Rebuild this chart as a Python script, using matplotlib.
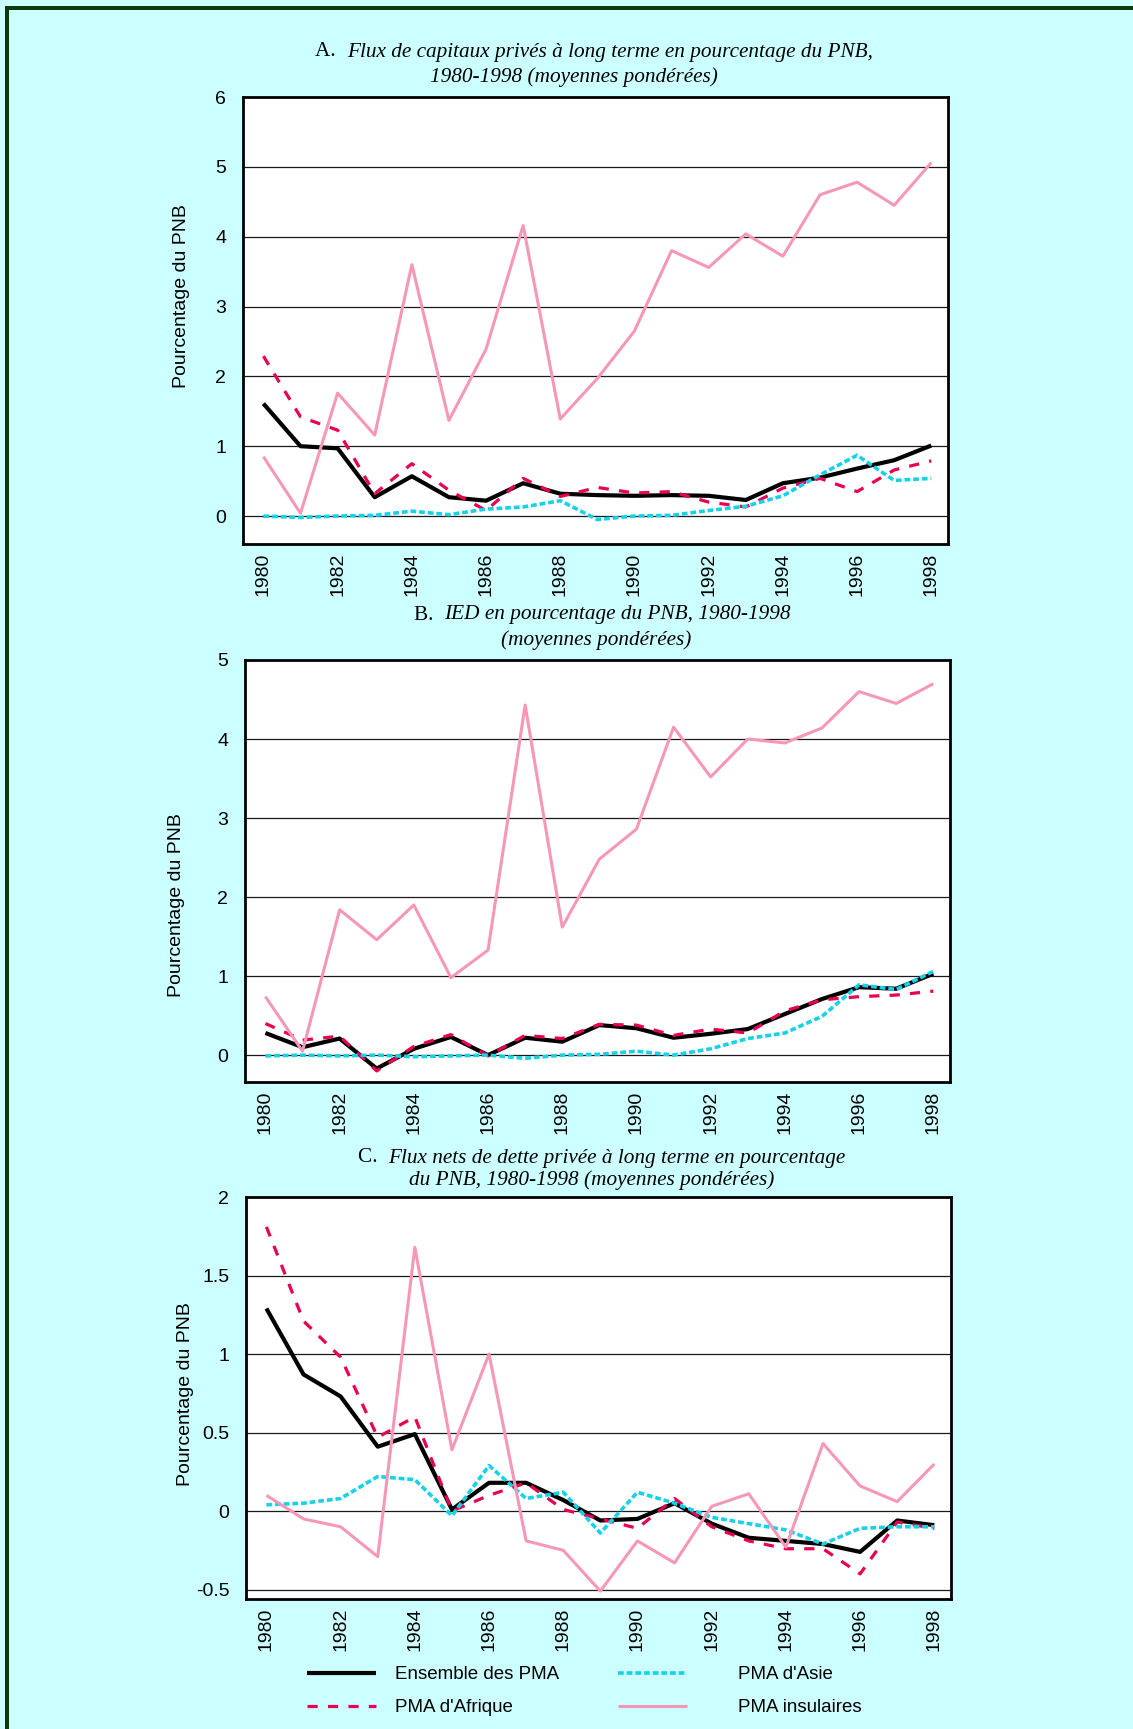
import matplotlib
matplotlib.use("Agg")
import matplotlib.pyplot as plt
from matplotlib.patches import Rectangle

# ---------------- data ----------------
years = list(range(1980, 1999))
xtick_years = list(range(1980, 1999, 2))

series_labels = ["Ensemble des PMA", "PMA d'Afrique", "PMA d'Asie", "PMA insulaires"]

# Panel A: Flux de capitaux privés à long terme (% du PNB)
a_ensemble = [1.61, 1.00, 0.97, 0.27, 0.57, 0.27, 0.22, 0.47, 0.32, 0.30,
              0.29, 0.30, 0.29, 0.23, 0.47, 0.55, 0.68, 0.80, 1.01]
a_afrique = [2.29, 1.42, 1.23, 0.32, 0.75, 0.37, 0.08, 0.54, 0.28, 0.41,
             0.33, 0.35, 0.20, 0.13, 0.40, 0.54, 0.35, 0.66, 0.79]
a_asie = [0.00, -0.02, 0.00, 0.01, 0.07, 0.02, 0.10, 0.13, 0.22, -0.05,
          0.00, 0.01, 0.08, 0.14, 0.29, 0.59, 0.87, 0.51, 0.54]
a_insulaires = [0.85, 0.04, 1.76, 1.16, 3.60, 1.37, 2.39, 4.16, 1.39, 1.97,
                2.65, 3.80, 3.56, 4.04, 3.72, 4.60, 4.78, 4.45, 5.06]

# Panel B: IED (% du PNB)
b_ensemble = [0.28, 0.10, 0.21, -0.17, 0.08, 0.23, 0.00, 0.22, 0.17, 0.38,
              0.34, 0.22, 0.27, 0.33, 0.52, 0.71, 0.86, 0.84, 1.03]
b_afrique = [0.40, 0.19, 0.24, -0.20, 0.11, 0.26, -0.01, 0.25, 0.21, 0.39,
             0.38, 0.25, 0.33, 0.28, 0.56, 0.70, 0.74, 0.76, 0.81]
b_asie = [-0.01, 0.00, -0.01, 0.00, -0.02, -0.01, 0.00, -0.04, 0.00, 0.01,
          0.05, 0.00, 0.08, 0.21, 0.28, 0.49, 0.89, 0.83, 1.06]
b_insulaires = [0.74, 0.05, 1.84, 1.46, 1.90, 0.98, 1.33, 4.43, 1.62, 2.48,
                2.86, 4.15, 3.52, 4.00, 3.95, 4.14, 4.60, 4.45, 4.70]

# Panel C: Flux nets de dette privée à long terme (% du PNB)
c_ensemble = [1.29, 0.87, 0.73, 0.41, 0.49, 0.01, 0.18, 0.18, 0.07, -0.06,
              -0.05, 0.05, -0.08, -0.17, -0.19, -0.21, -0.26, -0.06, -0.09]
c_afrique = [1.81, 1.21, 0.98, 0.47, 0.60, 0.00, 0.10, 0.18, 0.01, -0.05,
             -0.11, 0.08, -0.10, -0.19, -0.24, -0.24, -0.40, -0.07, -0.11]
c_asie = [0.04, 0.05, 0.08, 0.22, 0.20, -0.03, 0.29, 0.08, 0.12, -0.14,
          0.12, 0.05, -0.04, -0.08, -0.12, -0.21, -0.11, -0.10, -0.10]
c_insulaires = [0.10, -0.05, -0.10, -0.29, 1.68, 0.39, 1.00, -0.19, -0.25, -0.51,
                -0.19, -0.33, 0.03, 0.11, -0.23, 0.43, 0.16, 0.06, 0.30]

a_yticks = [0, 1, 2, 3, 4, 5, 6]
a_yticklabels = ["0", "1", "2", "3", "4", "5", "6"]
b_yticks = [0, 1, 2, 3, 4, 5]
b_yticklabels = ["0", "1", "2", "3", "4", "5"]
c_yticks = [-0.5, 0, 0.5, 1, 1.5, 2]
c_yticklabels = ["-0.5", "0", "0.5", "1", "1.5", "2"]

titles = [
    ("A.", "Flux de capitaux privés à long terme en pourcentage du PNB,",
     "1980-1998 (moyennes pondérées)"),
    ("B.", "IED en pourcentage du PNB, 1980-1998",
     "(moyennes pondérées)"),
    ("C.", "Flux nets de dette privée à long terme en pourcentage",
     "du PNB, 1980-1998 (moyennes pondérées)"),
]
ylabel = "Pourcentage du PNB"

# ---------------- styling ----------------
W, H = 1133, 1729
BG = "#ccffff"
SANS = ["Liberation Sans", "DejaVu Sans"]
SERIF = ["Liberation Serif", "DejaVu Serif"]

styles = [
    dict(color="black", lw=3.0, ls="-", solid_capstyle="butt"),
    dict(color="#ea0052", lw=2.3, ls=(0, (3.2, 3.2)), dash_capstyle="butt"),
    dict(color="#16d2e8", lw=2.6, ls=(0, (1.6, 0.8)), dash_capstyle="butt"),
    dict(color="#f797b8", lw=2.2, ls="-", solid_capstyle="butt"),
]

fig = plt.figure(figsize=(W / 100, H / 100), dpi=100, facecolor=BG)


def fx(px):
    return px / W


def fy(py):
    return 1 - py / H


# frame (top and left dark green borders)
fig.add_artist(Rectangle((fx(5), fy(10)), fx(W), 4 / H, transform=fig.transFigure,
                         color="#0b3a0b", lw=0))
fig.add_artist(Rectangle((fx(5), 0), 4 / W, fy(6), transform=fig.transFigure,
                         color="#0b3a0b", lw=0))

panels = [
    dict(box=(243, 97, 948, 544), ylim=(-0.4, 6.0), yt=a_yticks, ytl=a_yticklabels,
         data=[a_ensemble, a_afrique, a_asie, a_insulaires],
         ylab=(-0.075, 0.555), title_y=(52, 77), title_x=(594, 574)),
    dict(box=(245, 660, 950, 1082), ylim=(-0.34, 5.0), yt=b_yticks, ytl=b_yticklabels,
         data=[b_ensemble, b_afrique, b_asie, b_insulaires],
         ylab=(-0.085, 0.42), title_y=(615, 640), title_x=(602, 596)),
    dict(box=(246, 1197, 951, 1599), ylim=(-0.56, 2.0), yt=c_yticks, ytl=c_yticklabels,
         data=[c_ensemble, c_afrique, c_asie, c_insulaires],
         ylab=(-0.074, 0.51), title_y=(1158, 1180), title_x=(602, 592)),
]

TKFS = 14
all_lines = None
for p in panels:
    l, t, r, b = p["box"]
    ax = fig.add_axes([fx(l), fy(b), (r - l) / W, (b - t) / H])
    ax.set_facecolor("white")
    ax.set_xlim(1979.45, 1998.45)
    ax.set_ylim(*p["ylim"])
    for yv in p["yt"]:
        ax.axhline(yv, color="#1a1a1a", lw=0.9, zorder=1)
    lines = []
    for series, st, lab in zip(p["data"], styles, series_labels):
        ln, = ax.plot(years, series, label=lab, zorder=3, **st)
        lines.append(ln)
    if all_lines is None:
        all_lines = lines
    ax.set_xticks(xtick_years)
    ax.set_xticklabels([str(y) for y in xtick_years], rotation=90,
                       fontsize=TKFS, family=SANS)
    ax.set_yticks(p["yt"])
    ax.set_yticklabels(p["ytl"], fontsize=TKFS, family=SANS)
    ax.tick_params(axis="both", length=0)
    ax.tick_params(axis="y", pad=12)
    ax.tick_params(axis="x", pad=6)
    for sp in ax.spines.values():
        sp.set_linewidth(2.0)
        sp.set_color("black")
    ax.set_ylabel(ylabel, fontsize=TKFS, family=SANS)
    ax.yaxis.set_label_coords(*p["ylab"])

# titles: upright letter + italic text
renderer = fig.canvas.get_renderer()
TFS = 15.3
for p, (letter, line1, line2) in zip(panels, titles):
    y1, y2 = p["title_y"]
    cx1, cx2 = p["title_x"]
    tl = fig.text(0, fy(y1), letter + "  ", fontsize=TFS, family=SERIF,
                  ha="left", va="center")
    ti = fig.text(0, fy(y1), line1, fontsize=TFS, family=SERIF, style="italic",
                  ha="left", va="center")
    wl = tl.get_window_extent(renderer).width
    wi = ti.get_window_extent(renderer).width
    x0 = cx1 - (wl + wi) / 2
    tl.set_x(fx(x0))
    ti.set_x(fx(x0 + wl))
    fig.text(fx(cx2), fy(y2), line2, fontsize=TFS, family=SERIF, style="italic",
             ha="center", va="center")

# legend: two columns
LFS = 13.5
leg1 = fig.legend([all_lines[0], all_lines[1]], [series_labels[0], series_labels[1]],
                  loc="upper left", bbox_to_anchor=(fx(307), fy(1666)),
                  frameon=False, prop=dict(family=SANS, size=LFS),
                  handlelength=3.7, handletextpad=1.0, labelspacing=0.85,
                  borderpad=0, borderaxespad=0)
leg2 = fig.legend([all_lines[2], all_lines[3]], [series_labels[2], series_labels[3]],
                  loc="upper left", bbox_to_anchor=(fx(618), fy(1666)),
                  frameon=False, prop=dict(family=SANS, size=LFS),
                  handlelength=3.7, handletextpad=2.7, labelspacing=0.85,
                  borderpad=0, borderaxespad=0)

fig.savefig("out.png", dpi=100, facecolor=BG)
